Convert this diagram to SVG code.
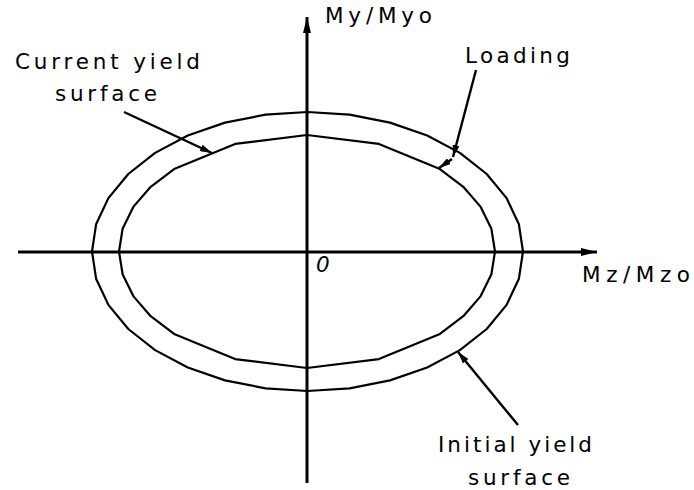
<svg xmlns="http://www.w3.org/2000/svg" width="694" height="490" viewBox="0 0 694 490">
<style>
.lbl{font-family:"DejaVu Sans","Liberation Sans",Arial,sans-serif;font-size:21.5px;fill:#000}
.axis{stroke:#000;stroke-width:3;fill:none}
.curve{stroke:#000;stroke-width:2.2;fill:none;stroke-linejoin:round}
.lead{stroke:#000;stroke-width:2.4;fill:none}
</style>
<defs>
<marker id="ah" viewBox="0 0 16 8" refX="16" refY="4" markerWidth="16" markerHeight="8" markerUnits="userSpaceOnUse" orient="auto">
<path d="M0,0 L16,4 L0,8 Z" fill="#000"/>
</marker>
<marker id="lh" viewBox="0 0 12 7" refX="12" refY="3.5" markerWidth="12" markerHeight="7" markerUnits="userSpaceOnUse" orient="auto">
<path d="M0,0 L12,3.5 L0,7 Z" fill="#000"/>
</marker>
</defs>
<rect width="694" height="490" fill="#fff"/>
<g id="axes">
<line class="axis" x1="18" y1="252" x2="597" y2="252" marker-end="url(#ah)"/>
<line class="axis" x1="307" y1="483" x2="307" y2="17" marker-end="url(#ah)"/>
</g>
<g id="initial-surface">
<polygon class="curve" points="307.5,112 349.5,114.7 390,122.6 427.2,135.5 459.9,152.9 486.7,174 506.6,198.1 518.9,224.3 523,251.5 518.9,278.7 506.6,304.9 486.7,329 459.9,350.1 427.2,367.5 390,380.4 349.5,388.3 307.5,391 265.5,388.3 225,380.4 187.8,367.5 155.1,350.1 128.3,329 108.4,304.9 96.1,278.7 92,251.5 96.1,224.3 108.4,198.1 128.3,174 155.1,152.9 187.8,135.5 225,122.6 265.5,114.7"/>
</g>
<g id="current-surface">
<polygon class="curve" points="307,135 378.9,143.9 439.9,169.1 463.3,186.8 480.7,206.9 491.4,228.8 495,251.5 491.4,274.2 480.7,296.1 463.3,316.2 439.9,333.9 378.9,359.1 307,368 235.1,359.1 174.1,333.9 150.7,316.2 133.3,296.1 122.6,274.2 119,251.5 122.6,228.8 133.3,206.9 150.7,186.8 174.1,169.1 235.1,143.9"/>
</g>
<g id="connectors">
<line class="lead" x1="124" y1="112" x2="212" y2="153" marker-end="url(#lh)"/>
<line class="lead" x1="476" y1="70" x2="453" y2="157" marker-end="url(#lh)"/>
<line class="lead" x1="452" y1="159" x2="439" y2="168" marker-end="url(#lh)"/>
<line class="lead" x1="518" y1="425" x2="458" y2="352" marker-end="url(#lh)"/>
</g>
<g id="labels">
<text class="lbl" x="15" y="69" textLength="185" lengthAdjust="spacing">Current yield</text>
<text class="lbl" x="55" y="101" textLength="102" lengthAdjust="spacing">surface</text>
<text class="lbl" x="465" y="63" textLength="105" lengthAdjust="spacing">Loading</text>
<text class="lbl" x="325" y="23" textLength="107" lengthAdjust="spacing">My/Myo</text>
<text class="lbl" x="582" y="282" textLength="108" lengthAdjust="spacing">Mz/Mzo</text>
<text class="lbl" x="316" y="272" font-style="italic" font-size="23">0</text>
<text class="lbl" x="438" y="452" textLength="154" lengthAdjust="spacing">Initial yield</text>
<text class="lbl" x="468" y="485" textLength="102" lengthAdjust="spacing">surface</text>
</g>
</svg>
